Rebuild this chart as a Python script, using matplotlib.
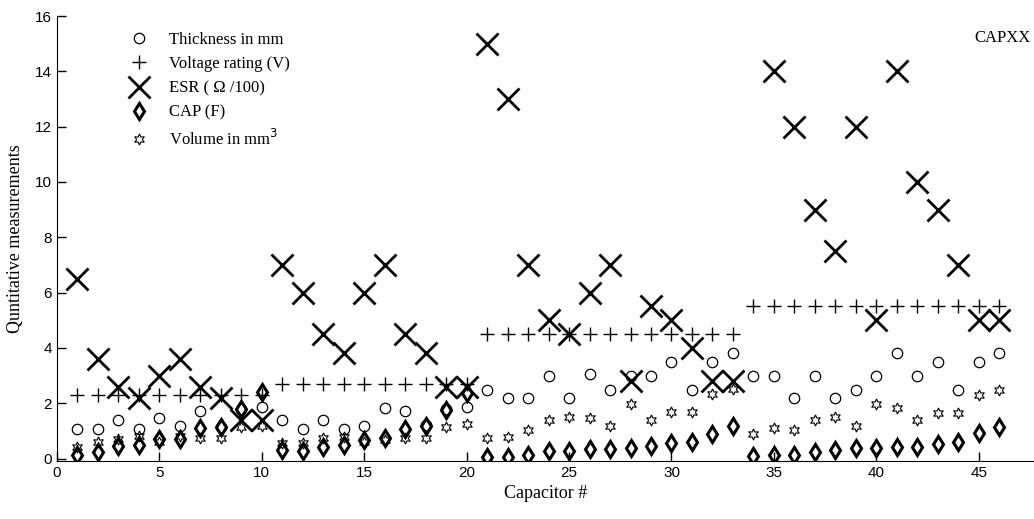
import numpy as np
import matplotlib
matplotlib.use('Agg')
from matplotlib import pyplot as plt

capacitor = np.arange(1, 47)

thickness = [1.05, 1.05, 1.4, 1.05, 1.45, 1.17, 1.7, 1.15, 1.8, 1.87,
             1.4, 1.05, 1.4, 1.05, 1.18, 1.83, 1.7, 1.2, 1.8, 1.85,
             2.47, 2.17, 2.17, 2.99, 2.17, 3.07, 2.47, 2.99, 2.99, 3.5,
             2.47, 3.5, 3.8, 2.99, 2.99, 2.17, 2.99, 2.17, 2.47, 2.99,
             3.8, 2.99, 3.5, 2.47, 3.5, 3.8]

voltage = [2.3, 2.3, 2.3, 2.3, 2.3, 2.3, 2.3, 2.3, 2.3, 2.3,
           2.7, 2.7, 2.7, 2.7, 2.7, 2.7, 2.7, 2.7, 2.7, 2.7,
           4.5, 4.5, 4.5, 4.5, 4.5, 4.5, 4.5, 4.5, 4.5, 4.5,
           4.5, 4.5, 4.5, 5.5, 5.5, 5.5, 5.5, 5.5, 5.5, 5.5,
           5.5, 5.5, 5.5, 5.5, 5.5, 5.5]

# ESR in ohm/100, no value for capacitor 34
esr = [6.5, 3.6, 2.6, 2.2, 3.0, 3.6, 2.6, 2.2, 1.4, 1.4,
       7.0, 6.0, 4.5, 3.8, 6.0, 7.0, 4.5, 3.8, 2.6, 2.6,
       15.0, 13.0, 7.0, 5.0, 4.5, 6.0, 7.0, 2.8, 5.5, 5.0,
       4.0, 2.8, 2.8, np.nan, 14.0, 12.0, 9.0, 7.5, 12.0, 5.0,
       14.0, 10.0, 9.0, 7.0, 5.0, 5.0]

cap = [0.13, 0.25, 0.45, 0.49, 0.69, 0.69, 1.09, 1.15, 1.78, 2.41,
       0.31, 0.27, 0.42, 0.49, 0.67, 0.75, 1.07, 1.16, 1.75, 2.38,
       0.07, 0.07, 0.13, 0.26, 0.27, 0.35, 0.35, 0.37, 0.45, 0.55,
       0.61, 0.9, 1.17, 0.08, 0.13, 0.11, 0.23, 0.29, 0.37, 0.37,
       0.43, 0.43, 0.52, 0.61, 0.91, 1.15]

volume = [0.4, 0.58, 0.7, 0.8, 0.6, 0.8, 0.73, 0.75, 1.15, 1.17,
          0.55, 0.57, 0.73, 0.77, 0.6, 0.67, 0.73, 0.75, 1.15, 1.23,
          0.73, 0.77, 1.03, 1.4, 1.49, 1.47, 1.17, 1.98, 1.41, 1.67,
          1.67, 2.33, 2.52, 0.9, 1.09, 1.03, 1.41, 1.49, 1.17, 1.97,
          1.81, 1.41, 1.65, 1.65, 2.29, 2.47]

serif = ['Liberation Serif', 'DejaVu Serif']

fig = plt.figure(figsize=(10.34, 5.19), dpi=100)
ax = fig.add_axes([57 / 1034, 1 - 461 / 519, 977 / 1034, 445 / 519])

ax.plot(capacitor, thickness, 'o', ms=7.5, mfc='none', mec='k', mew=0.9,
        label='Thickness in mm')
ax.plot(capacitor, voltage, '+', ms=10, mec='k', mew=1.0,
        label='Voltage rating (V)')
ax.plot(capacitor, esr, 'x', ms=16, mec='k', mew=2.0,
        label='ESR ( \u03a9 /100)')
ax.plot(capacitor, cap, 'd', ms=8.5, mfc='none', mec='k', mew=2.2,
        label='CAP (F)')
ax.plot(capacitor, volume, marker=(6, 1, 0), ls='none', ms=8, mfc='none',
        mec='k', mew=0.8, label='Volume in mm$^3$')

ax.set_xlim(0, 47.7)
ax.set_ylim(-0.09, 16)
ax.set_xticks(range(0, 46, 5))
ax.set_yticks(range(0, 17, 2))
ax.spines['top'].set_visible(False)
ax.spines['right'].set_visible(False)
ax.tick_params(direction='in', length=6.5, width=1, labelsize=11)
for lab in ax.get_xticklabels() + ax.get_yticklabels():
    lab.set_family('Liberation Sans')

ax.set_xlabel('Capacitor #', family=serif, fontsize=13, labelpad=4)
ax.set_ylabel('Quntitative measurements', family=serif, fontsize=13, labelpad=8)

leg = ax.legend(loc='upper left', bbox_to_anchor=(0.058, 0.998), frameon=False,
                numpoints=1, handlelength=1.2, handletextpad=1.2,
                labelspacing=0.5, prop={'family': serif, 'size': 12})

ax.text(0.997, 0.95, 'CAPXX', transform=ax.transAxes, ha='right', va='center',
        family=serif, fontsize=12)

fig.savefig('out.png', dpi=100)
